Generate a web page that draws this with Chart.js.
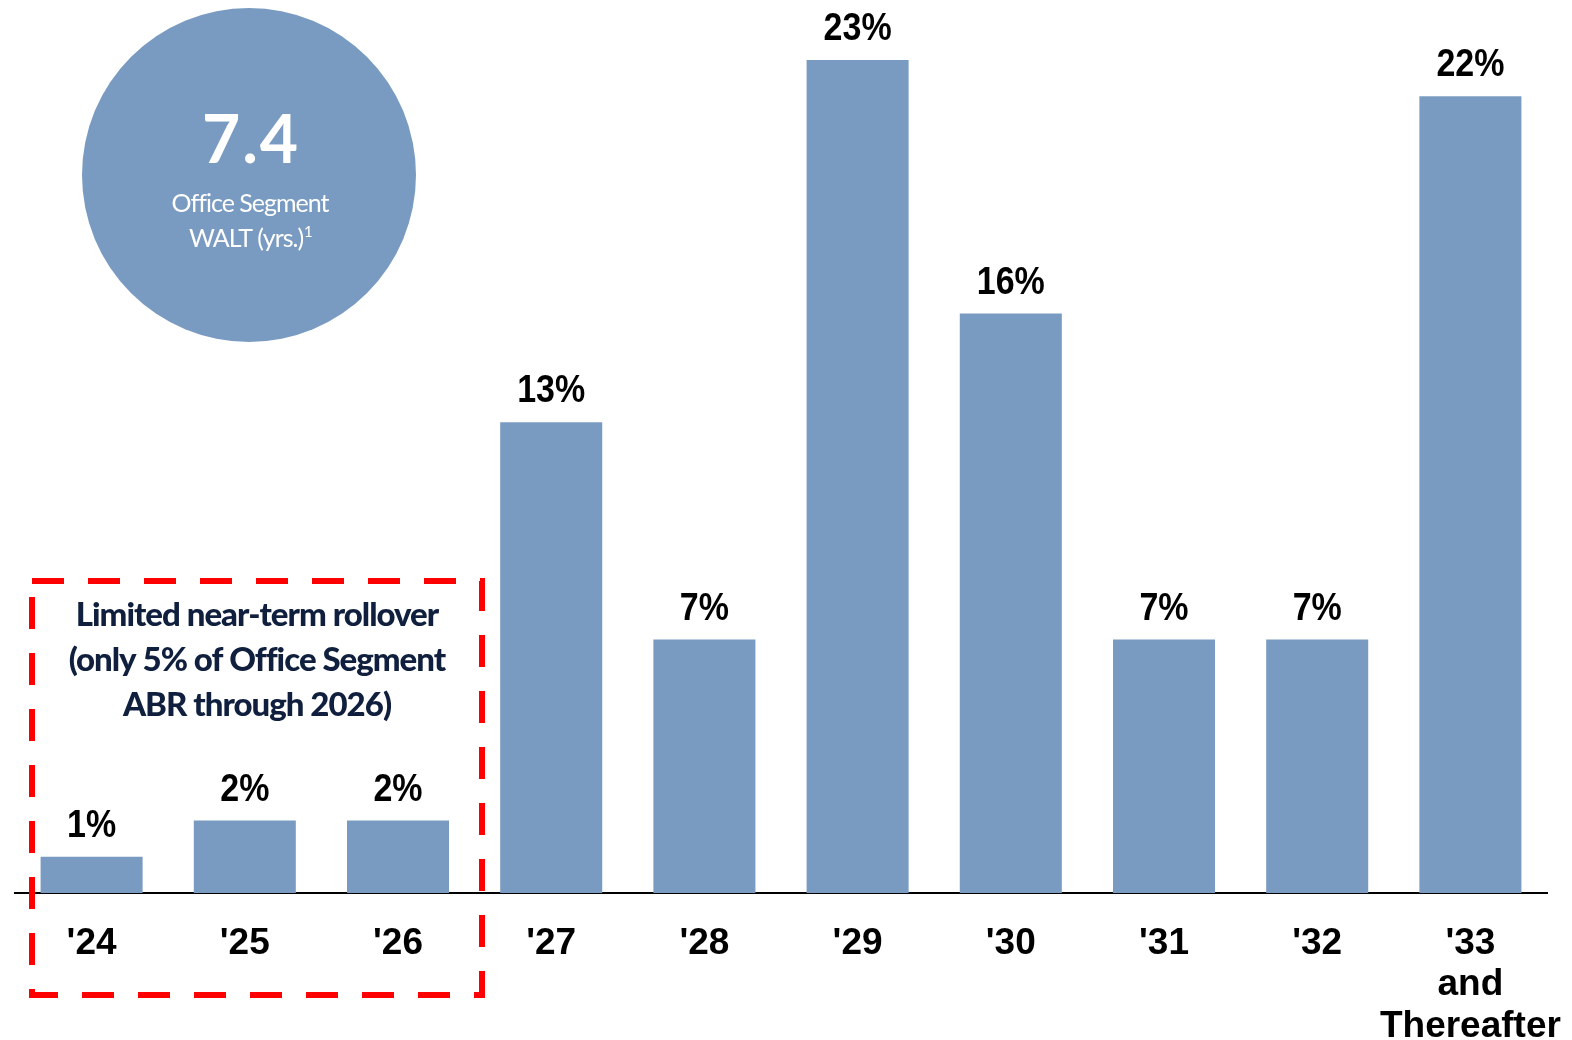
<!DOCTYPE html>
<html>
<head>
<meta charset="utf-8">
<script src="https://cdn.jsdelivr.net/npm/chart.js@4.4.1/dist/chart.umd.min.js"></script>
<style>
  html, body { margin: 0; padding: 0; background: #fff; }
  #wrap { width: 1572px; height: 1040px; position: relative; }
</style>
</head>
<body>
<div id="wrap"><canvas id="rolloverChart" width="1572" height="1040"></canvas></div>
<script>
const years = ["'24", "'25", "'26", "'27", "'28", "'29", "'30", "'31", "'32", ["'33", "and", "Thereafter"]];
const abrShare = [1, 2, 2, 13, 7, 23, 16, 7, 7, 22];
const boxLines = ["Limited near-term rollover", "(only 5% of Office Segment", "ABR through 2026)"];
const waltValue = "7.4";
const waltLines = ["Office Segment", "WALT (yrs.)"];

const barBlue = '#7a9bc1';

// percent labels above the bars (a bit taller than wide, like the source)
const barLabels = {
    id: 'barLabels',
    afterDatasetsDraw(chart) {
        const ctx = chart.ctx;
        const meta = chart.getDatasetMeta(0);
        ctx.save();
        ctx.font = 'bold 34px "Liberation Sans", Arial, sans-serif';
        ctx.fillStyle = '#000';
        ctx.textAlign = 'center';
        ctx.textBaseline = 'alphabetic';
        meta.data.forEach((bar, i) => {
            ctx.save();
            ctx.translate(bar.x, bar.y - 20);
            ctx.scale(1, 1.15);
            ctx.fillText(abrShare[i] + '%', 0, 0);
            ctx.restore();
        });
        ctx.restore();
    }
}

// WALT bubble + dashed near-term box
const extras = {
    id: 'extras',
    afterDraw(chart) {
        const ctx = chart.ctx;
        ctx.save();

        ctx.beginPath();
        ctx.arc(249, 175, 167, 0, Math.PI * 2);
        ctx.fillStyle = barBlue;
        ctx.fill();

        ctx.fillStyle = '#fff';
        ctx.textAlign = 'center';
        ctx.textBaseline = 'middle';
        ctx.font = 'bold 66px Lato, sans-serif';
        ctx.letterSpacing = '2px';
        ctx.fillText(waltValue, 251, 142);
        ctx.letterSpacing = '-1px';
        ctx.font = '25px Lato, sans-serif';
        ctx.fillText(waltLines[0], 250, 204);
        const w = ctx.measureText(waltLines[1]).width;
        ctx.fillText(waltLines[1], 246, 239);
        ctx.font = '15px Lato, sans-serif';
        ctx.textAlign = 'left';
        ctx.fillText('1', 246 + w / 2 + 1, 232);

        ctx.letterSpacing = '-1px';
        ctx.font = '900 33px Lato, sans-serif';
        ctx.fillStyle = '#0f1f3d';
        ctx.textAlign = 'center';
        boxLines.forEach((line, i) => {
            ctx.fillText(line, 257, 615 + i * 45);
        });

        ctx.setLineDash([32, 24]);
        ctx.lineWidth = 6;
        ctx.strokeStyle = '#ff0000';
        ctx.strokeRect(32, 581, 450, 414);
        ctx.restore();
    }
}

const config = {
    type: 'bar',
    data: {
        labels: years,
        datasets: [{
            data: abrShare,
            backgroundColor: barBlue,
            barPercentage: 0.666,
            categoryPercentage: 1
        }]
    },
    options: {
        responsive: false,
        animation: false,
        layout: { padding: { left: 15, right: 25, top: 0, bottom: 0 } },
        plugins: {
            legend: { display: false },
            tooltip: { enabled: false }
        },
        scales: {
            y: {
                display: false,
                min: 0,
                max: 24.66
            },
            x: {
                grid: { display: false },
                border: { display: true, color: '#000', width: 2 },
                ticks: {
                    color: '#000',
                    padding: 22,
                    maxRotation: 0,
                    autoSkip: false,
                    font: { family: '"Liberation Sans", Arial, sans-serif', size: 37, weight: 'bold', lineHeight: 1.12 }
                },
                afterFit: (scale) => {
                    scale.height = 147;
                    scale.paddingLeft = 0;
                    scale.paddingRight = 0;
                }
            }
        }
    },
    plugins: [barLabels, extras]
}

const rolloverChart = new Chart(document.getElementById('rolloverChart'), config);
</script>
</body>
</html>
